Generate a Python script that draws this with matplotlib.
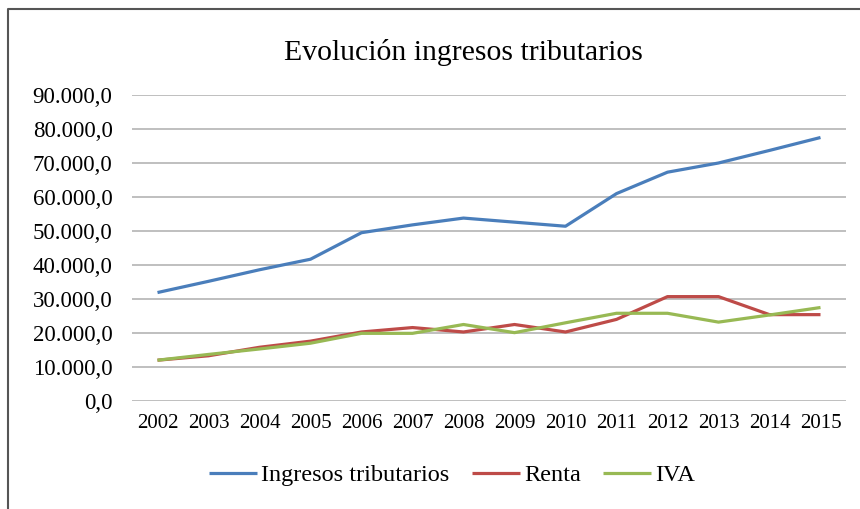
import matplotlib
matplotlib.use("Agg")
import matplotlib.pyplot as plt
from matplotlib.lines import Line2D
from matplotlib.ticker import FuncFormatter, MultipleLocator

years = ["2002", "2003", "2004", "2005", "2006", "2007", "2008",
         "2009", "2010", "2011", "2012", "2013", "2014", "2015"]
ingresos = [31900, 35200, 38600, 41700, 49500, 51800, 53800,
            52600, 51400, 61000, 67300, 70000, 73700, 77500]
renta = [12000, 13300, 15800, 17600, 20300, 21600, 20300,
         22500, 20300, 24000, 30700, 30700, 25400, 25400]
iva = [12000, 13700, 15300, 17000, 19900, 19900, 22500,
       20100, 23000, 25800, 25800, 23200, 25300, 27500]

plt.rcParams['font.family'] = ['Liberation Serif', 'DejaVu Serif']

W, H = 860, 509
fig = plt.figure(figsize=(W / 100, H / 100), dpi=100)
ax = fig.add_axes([132 / W, (H - 401) / H, (846 - 132) / W, (401 - 95) / H])

x = list(range(len(years)))
ax.plot(x, ingresos, color='#4A7EBB', lw=2.3, label='Ingresos tributarios', solid_capstyle='butt')
ax.plot(x, renta, color='#BE4B48', lw=2.3, label='Renta', solid_capstyle='butt')
ax.plot(x, iva, color='#98B954', lw=2.3, label='IVA', solid_capstyle='butt')

ax.set_xlim(-0.5, len(years) - 0.5)
ax.set_ylim(0, 90000)
ax.yaxis.set_major_locator(MultipleLocator(10000))

def fmt(v, pos):
    s = f"{v:,.1f}"
    return s.replace(",", "X").replace(".", ",").replace("X", ".")

ax.yaxis.set_major_formatter(FuncFormatter(fmt))
ax.set_xticks(x)
ax.set_xticklabels(years)
ax.tick_params(axis='both', length=0)
ax.tick_params(axis='x', labelsize=15, pad=9)
ax.tick_params(axis='y', labelsize=16.5, pad=14)
for sp in ax.spines.values():
    sp.set_visible(False)
ax.grid(axis='y', color='#B4B4B4', lw=1.2)
ax.set_axisbelow(True)

fig.text(463 / W, 1 - 52 / H, 'Evolución ingresos tributarios', ha='center', va='center', fontsize=21.4)

fig.legend(loc='center', bbox_to_anchor=(452 / W, 1 - 475 / H), ncol=3, frameon=False,
           fontsize=17.5, handlelength=2.0, handletextpad=0.16, columnspacing=0.9)

fig.add_artist(Line2D([8 / W, 8 / W, 1.0], [0.0, 1 - 9 / H, 1 - 9 / H],
                      transform=fig.transFigure, color='#555555', lw=1.5))

fig.savefig('out.png', dpi=100)
